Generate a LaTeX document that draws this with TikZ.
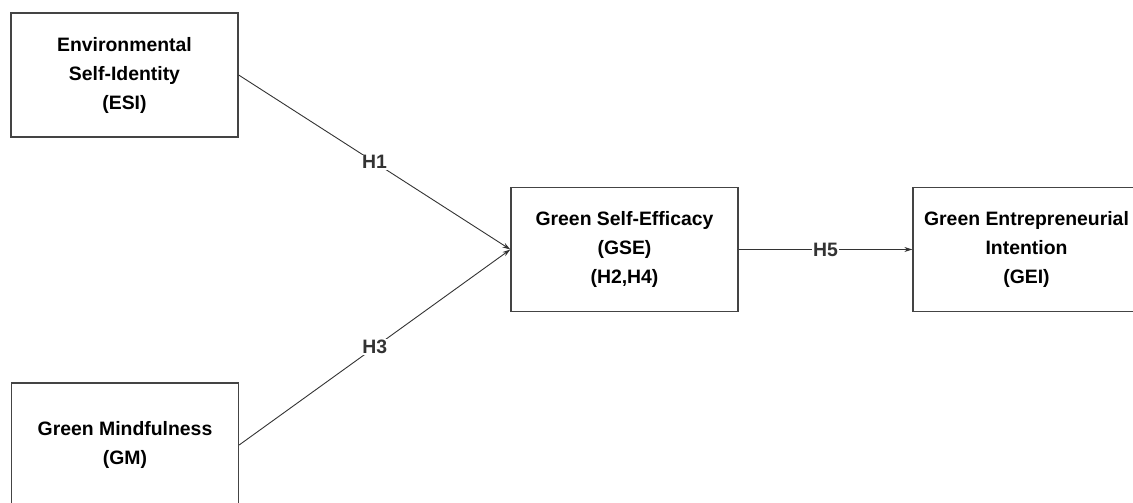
\documentclass[tikz,border=0pt]{standalone}
\usepackage{fontspec}
\setmainfont{Liberation Sans}
\usepackage{tikz}
\usetikzlibrary{
    arrows.meta,
    positioning
}
\definecolor{boxline}{HTML}{444444}
\definecolor{arrowline}{HTML}{333333}

\begin{document}
\begin{tikzpicture}[
        x=1pt, y=1pt,
        >={Stealth[length=8pt,width=5pt]},
        construct/.style={
            rectangle,
            draw=boxline,
            line width=1.3pt,
            minimum width=227pt,
            minimum height=124pt,
            align=center,
            inner sep=0pt,
            font=\bfseries\fontsize{19.4}{29}\selectfont
        },
        hyp/.style={
            fill=white,
            inner sep=1pt,
            text=arrowline,
            font=\bfseries\fontsize{19.4}{23}\selectfont
        },
        path/.style={
            ->,
            draw=arrowline,
            line width=0.9pt
        }
    ]
        \useasboundingbox (0,0) rectangle (1133,503);

        \node[construct] (ESI) at (124.5,428) {Environmental\\Self-Identity\\(ESI)};
        \node[construct] (GM) at (125,58) {Green Mindfulness\\(GM)};
        \node[construct] (GSE) at (624.5,253.5) {Green Self-Efficacy\\(GSE)\\(H2,H4)};
        \node[construct] (GEI) at (1026.5,253.5) {Green Entrepreneurial\\Intention\\(GEI)};

        \draw[path] (ESI.east) -- node[hyp] {H1} (GSE.west);
        \draw[path] (GM.east) -- node[hyp] {H3} (GSE.west);
        \draw[path] (GSE.east) -- node[hyp] {H5} (GEI.west);
    \end{tikzpicture}
\end{document}
